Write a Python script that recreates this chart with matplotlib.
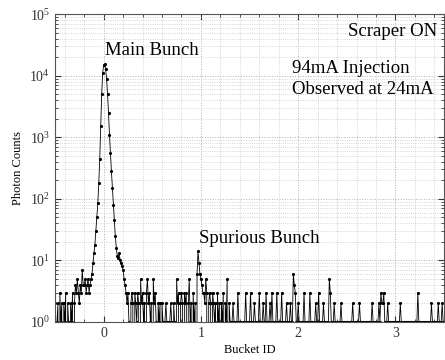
import numpy as np
import matplotlib
matplotlib.use("Agg")
import matplotlib.pyplot as plt
from matplotlib.ticker import LogLocator, MultipleLocator, NullFormatter

plt.rcParams['font.family'] = ['Liberation Serif', 'DejaVu Serif']
plt.rcParams['mathtext.fontset'] = 'custom'
plt.rcParams['mathtext.rm'] = 'Liberation Serif'

# Bucket axis: first bin and bin width (bucket units)
bucket_start = -0.50
bucket_step = 0.01

# Photon counts per bin, 10 bins per row (0.1 bucket per row)
photon_counts = [
    2, 0, 1, 2, 0, 3, 1, 2, 0, 2,            # -0.50
    1, 3, 0, 2, 1, 0, 2, 1, 3, 0,            # -0.40
    2, 4, 3, 5, 3, 2, 4, 3, 7, 4,            # -0.30
    4, 5, 3, 4, 5, 3, 4, 5, 6, 9,            # -0.20
    13, 18, 30, 50, 85, 180, 450, 1500, 5000, 11000,   # -0.10
    15000, 15500, 13000, 9000, 5000, 2500, 1100, 550, 280, 150,  # 0.00
    80, 45, 25, 16, 12, 11, 13, 10, 9, 8,    # 0.10
    7, 5, 4, 3, 2, 3, 1, 0, 2, 3,            # 0.20
    2, 0, 3, 2, 1, 3, 2, 0, 5, 2,            # 0.30
    3, 1, 2, 0, 3, 5, 2, 3, 1, 2,            # 0.40
    0, 5, 2, 3, 1, 0, 2, 1, 2, 0,            # 0.50
    2, 1, 0, 1, 2, 1, 1, 0, 1, 2,            # 0.60
    1, 0, 2, 1, 0, 5, 2, 3, 0, 2,            # 0.70
    3, 2, 0, 3, 2, 3, 0, 2, 5, 1,            # 0.80
    2, 0, 3, 1, 2, 0, 6, 14, 9, 6,           # 0.90
    5, 4, 3, 3, 2, 5, 3, 0, 2, 3,            # 1.00
    2, 0, 3, 2, 1, 2, 0, 3, 1, 2,            # 1.10
    0, 2, 1, 3, 0, 2, 1, 5, 0, 2,            # 1.20
    1, 1, 1, 2, 1, 1, 1, 1, 3, 1,            # 1.30
    1, 1, 0, 1, 1, 1, 3, 1, 1, 1,            # 1.40
    1, 3, 1, 1, 1, 2, 1, 1, 1, 1,            # 1.50
    3, 1, 1, 1, 2, 1, 1, 3, 1, 1,            # 1.60
    1, 2, 1, 3, 1, 1, 1, 1, 3, 1,            # 1.70
    1, 1, 1, 3, 1, 1, 1, 1, 2, 1,            # 1.80
    1, 1, 2, 1, 1, 6, 4, 3, 1, 1,            # 1.90
    2, 1, 1, 1, 1, 1, 3, 1, 1, 1,            # 2.00
    1, 1, 3, 1, 1, 1, 1, 1, 2, 1,            # 2.10
    1, 3, 1, 1, 1, 1, 2, 1, 1, 1,            # 2.20
    1, 1, 5, 3, 1, 1, 1, 2, 1, 1,            # 2.30
    1, 1, 1, 1, 2, 1, 1, 1, 1, 1,            # 2.40
    1, 1, 1, 1, 1, 1, 2, 1, 1, 1,            # 2.50
    1, 1, 1, 2, 1, 1, 1, 1, 1, 1,            # 2.60
    1, 1, 1, 1, 1, 1, 2, 1, 1, 1,            # 2.70
    1, 1, 1, 2, 1, 3, 2, 2, 3, 1,            # 2.80
    1, 1, 2, 1, 1, 1, 1, 1, 1, 1,            # 2.90
    1, 1, 1, 1, 1, 2, 1, 1, 1, 1,            # 3.00
    1, 1, 1, 1, 1, 1, 1, 1, 1, 1,            # 3.10
    1, 1, 1, 3, 1, 1, 1, 1, 1, 1,            # 3.20
    1, 1, 1, 1, 1, 1, 1, 2, 1, 1,            # 3.30
    1, 1, 1, 1, 2, 1, 1, 1, 2, 1,            # 3.40
]

x_ticks = [0, 1, 2, 3]

bucket_id = bucket_start + bucket_step * np.arange(len(photon_counts))
counts = np.array(photon_counts, dtype=float)

fig = plt.figure(figsize=(4.45, 3.6), dpi=100)
ax = fig.add_axes([0.1236, 0.1056, 0.8744, 0.855])

ax.plot(bucket_id, counts, color='black', linewidth=0.6,
        marker='.', markersize=2.5)

ax.set_yscale('log', nonpositive='clip')
ax.set_xlim(-0.5, 3.5)
ax.set_ylim(1, 1e5)
ax.set_xticks(x_ticks)
ax.xaxis.set_minor_locator(MultipleLocator(0.2))
ax.yaxis.set_major_locator(LogLocator(base=10, numticks=10))
ax.yaxis.set_minor_locator(LogLocator(base=10, subs=np.arange(2, 10), numticks=20))
ax.yaxis.set_minor_formatter(NullFormatter())

# Grid punteado tipo MATLAB
ax.grid(True, which='major', linestyle=':', color='#b0b0b0', linewidth=0.7)
ax.grid(True, which='minor', linestyle=':', color='#c8c8c8', linewidth=0.6)
ax.set_axisbelow(True)

ax.tick_params(which='both', direction='in', top=True, right=True,
               labelsize=10, colors='#333333')
ax.tick_params(which='major', length=4)
ax.tick_params(which='minor', length=2)
for s in ax.spines.values():
    s.set_color('#555555')
    s.set_linewidth(0.8)

ax.set_xlabel("Bucket ID", fontsize=9, labelpad=3)
ax.set_ylabel("Photon Counts", fontsize=9, labelpad=4)

fs = 13.5
ax.text(0.01, 2.6e4, "Main Bunch", fontsize=fs, ha='left', va='center')
ax.text(3.43, 5.3e4, "Scraper ON", fontsize=fs, ha='right', va='center')
ax.text(1.94, 1.3e4, "94mA Injection", fontsize=fs, ha='left', va='center')
ax.text(1.94, 5.9e3, "Observed at 24mA", fontsize=fs, ha='left', va='center')
ax.text(0.977, 19, "Spurious Bunch", fontsize=fs, ha='left', va='baseline')

fig.savefig("out.png", dpi=100)
plt.close(fig)
